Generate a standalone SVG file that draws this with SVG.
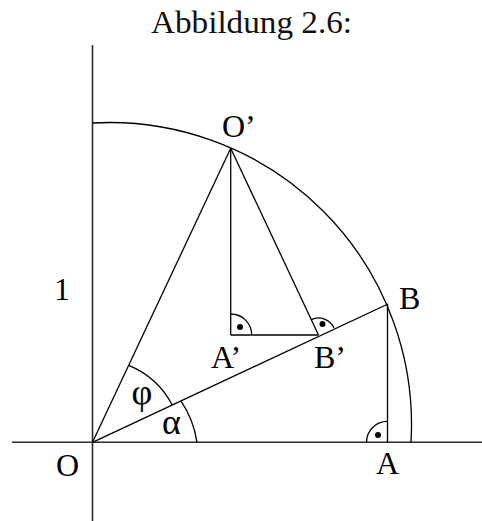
<svg xmlns="http://www.w3.org/2000/svg" width="482" height="521" viewBox="0 0 482 521">
<style>
.ax{stroke:#2a2a2a;stroke-width:1.6;fill:none}
.ln{stroke:#000;stroke-width:1.3;fill:none}
.lb{font-family:"Liberation Serif","Times New Roman",serif;font-size:32px;fill:#000}
.gr{font-family:"Liberation Serif","Times New Roman",serif;font-size:36px;fill:#000}
.ti{font-family:"Liberation Serif","Times New Roman",serif;font-size:32px;fill:#111}
</style>
<rect width="482" height="521" fill="#fff"/>
<text class="ti" x="151" y="33" textLength="201" lengthAdjust="spacingAndGlyphs">Abbildung 2.6:</text>
<g id="axes">
<line class="ax" x1="12" y1="442.3" x2="482" y2="442.3"/>
<line class="ax" x1="92.5" y1="45" x2="92.5" y2="521"/>
</g>
<g id="connectors">
<path id="circle-arc" class="ln" d="M92.5 123 A302 302 0 0 1 411 442.3"/>
<line class="ln" x1="92.5" y1="442.3" x2="230.7" y2="148.3"/>
<line class="ln" x1="92.5" y1="442.3" x2="388" y2="304"/>
<line class="ln" x1="387.5" y1="304" x2="387.5" y2="442.3"/>
<line class="ln" x1="230.7" y1="148.3" x2="230.7" y2="335"/>
<line class="ln" x1="230.7" y1="335" x2="318.5" y2="335"/>
<line class="ln" x1="318.5" y1="335" x2="230.7" y2="148.3"/>
<path class="ln" d="M128.7 365.4 A86 86 0 0 1 172.2 405"/>
<path class="ln" d="M180.9 400.9 A100 100 0 0 1 197 442.3"/>
</g>
<g id="right-angles">
<path class="ln" d="M366.5 442.3 A21 21 0 0 1 387.5 421.3"/>
<circle cx="378" cy="435" r="3" fill="#000"/>
<path class="ln" d="M230.7 314 A21 21 0 0 1 251.7 335"/>
<circle cx="240" cy="327" r="3" fill="#000"/>
<path class="ln" d="M311.3 319.6 A17 17 0 0 1 334 328.1"/>
<circle cx="322.5" cy="324" r="3" fill="#000"/>
</g>
<g id="node-O"><text class="lb" x="56" y="476">O</text></g>
<g id="node-O-prime"><text class="lb" x="222" y="137">O’</text></g>
<g id="node-A"><text class="lb" x="376" y="474">A</text></g>
<g id="node-B"><text class="lb" x="399" y="309">B</text></g>
<g id="node-A-prime"><text class="lb" x="211" y="368">A’</text></g>
<g id="node-B-prime"><text class="lb" x="314" y="368">B’</text></g>
<g id="label-1"><text class="lb" x="54" y="300">1</text></g>
<g id="label-phi"><text class="gr" x="142" y="404" text-anchor="middle">φ</text></g>
<g id="label-alpha"><text class="gr" x="171.5" y="434" text-anchor="middle">α</text></g>
</svg>
